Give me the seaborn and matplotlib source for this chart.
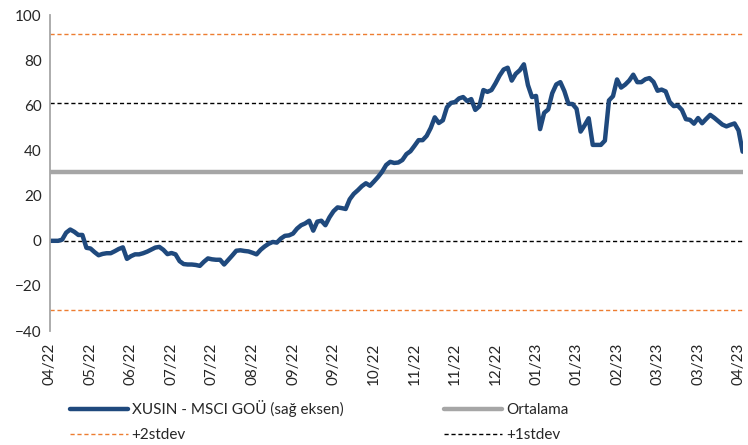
import pandas as pd
import numpy as np
import seaborn as sns
import matplotlib
matplotlib.use('Agg')
import matplotlib.pyplot as plt

# XUSIN - MSCI GOÜ series (about every 2 trading days)
values = [
    0, 0, 0, 0.5, 3.6, 5, 4, 2.6, 2.6, -3.1,
    -3.4, -5, -6.4, -5.8, -5.5, -5.5, -4.6, -3.6, -2.9, -8,
    -6.8, -6, -6, -5.5, -4.8, -3.9, -3, -2.7, -4, -5.9,
    -5.4, -6, -9, -10.3, -10.5, -10.5, -10.7, -11.1, -9.3, -7.8,
    -8.2, -8.4, -8.4, -10.5, -8.5, -6.5, -4.4, -4.2, -4.5, -4.7,
    -5.3, -6, -4, -2.5, -1.3, -0.5, -0.8, 1, 2.2, 2.4,
    3.2, 5.4, 6.9, 7.7, 8.9, 4.5, 8.5, 8.9, 6.9, 10.4,
    13.1, 14.8, 14.5, 14.1, 18.4, 20.8, 22.4, 24.2, 25.5, 24.4,
    26.3, 28.3, 30.6, 33.6, 35, 34.5, 34.7, 35.8, 38.4, 39.7,
    42.1, 44.6, 44.6, 46.5, 50, 54.7, 52.2, 53.4, 59.2, 61.1,
    61.5, 63.1, 63.7, 61.9, 62.8, 58, 59.6, 66.8, 66, 66.8,
    69.8, 73.2, 75.9, 76.7, 71, 74, 75.6, 78.2, 69, 63.7,
    64.2, 49.5, 56.7, 58.2, 65.4, 69.3, 70.3, 66.3, 60.7, 60.6,
    58.5, 48.4, 51.2, 54.3, 42.5, 42.5, 42.5, 44.4, 62.2, 64.1,
    71.5, 67.9, 69.2, 71, 73.6, 70.3, 70.3, 71.6, 72.1, 70.4,
    66.5, 67, 66.2, 61.5, 59.7, 59.9, 58, 53.9, 53.6, 51.9,
    54.4, 52.1, 54, 55.8, 54.5, 53, 51.5, 50.7, 51.4, 52,
    48.9, 39.5,
]

tick_labels = ['04/22', '05/22', '06/22', '07/22', '07/22', '08/22', '09/22', '09/22',
               '10/22', '11/22', '11/22', '12/22', '01/23', '01/23', '02/23', '03/23',
               '03/23', '04/23']

mean_val = 30.5
plus1 = 61.0
plus2 = 91.5
minus1 = 0.0
minus2 = -30.5

df = pd.DataFrame({'x': np.arange(len(values)), 'v': values})

sns.set_style('white')
plt.rcParams['font.family'] = ['Lato', 'DejaVu Sans']

fig = plt.figure(figsize=(7.48, 4.45), dpi=100)
ax = fig.add_axes([0.0668, 0.256, 0.926, 0.71])

ax.axhline(plus2, color='#ED7D31', lw=1, ls=(0, (3, 2)), label='+2stdev')
ax.axhline(minus2, color='#ED7D31', lw=1, ls=(0, (3, 2)))
ax.axhline(plus1, color='black', lw=1, ls=(0, (3, 2)), label='+1stdev')
ax.axhline(minus1, color='black', lw=1, ls=(0, (3, 2)))
ax.axhline(mean_val, color='#A6A6A6', lw=3.2, label='Ortalama')
sns.lineplot(data=df, x='x', y='v', ax=ax, color='#1F497D', lw=3.2,
             label='XUSIN - MSCI GOÜ (sağ eksen)')

ax.set_xlim(0, len(values) - 1)
ax.set_ylim(-40, 100)
ax.set_yticks(range(-40, 101, 20))
ax.set_xticks(range(0, 10 * len(tick_labels), 10))
ax.set_xticklabels(tick_labels, rotation=90)
ax.set_xlabel('')
ax.set_ylabel('')
ax.tick_params(axis='both', labelsize=11, length=0)
ax.tick_params(axis='x', pad=8)
ax.tick_params(axis='y', pad=6)
for s in ['top', 'right', 'bottom']:
    ax.spines[s].set_visible(False)
ax.spines['left'].set_color('#A6A6A6')
ax.spines['left'].set_linewidth(1.3)

ax.get_legend().remove()
h, l = ax.get_legend_handles_labels()
# legend fills column by column
order = ['XUSIN - MSCI GOÜ (sağ eksen)', '+2stdev', 'Ortalama', '+1stdev']
hs = [h[l.index(o)] for o in order]
fig.legend(hs, order, ncol=2, loc='lower left', bbox_to_anchor=(0.075, -0.025),
           frameon=False, fontsize=11, handlelength=3.8, handletextpad=0.25,
           columnspacing=6.6, labelspacing=0.72)

fig.savefig('out.png', dpi=100)
